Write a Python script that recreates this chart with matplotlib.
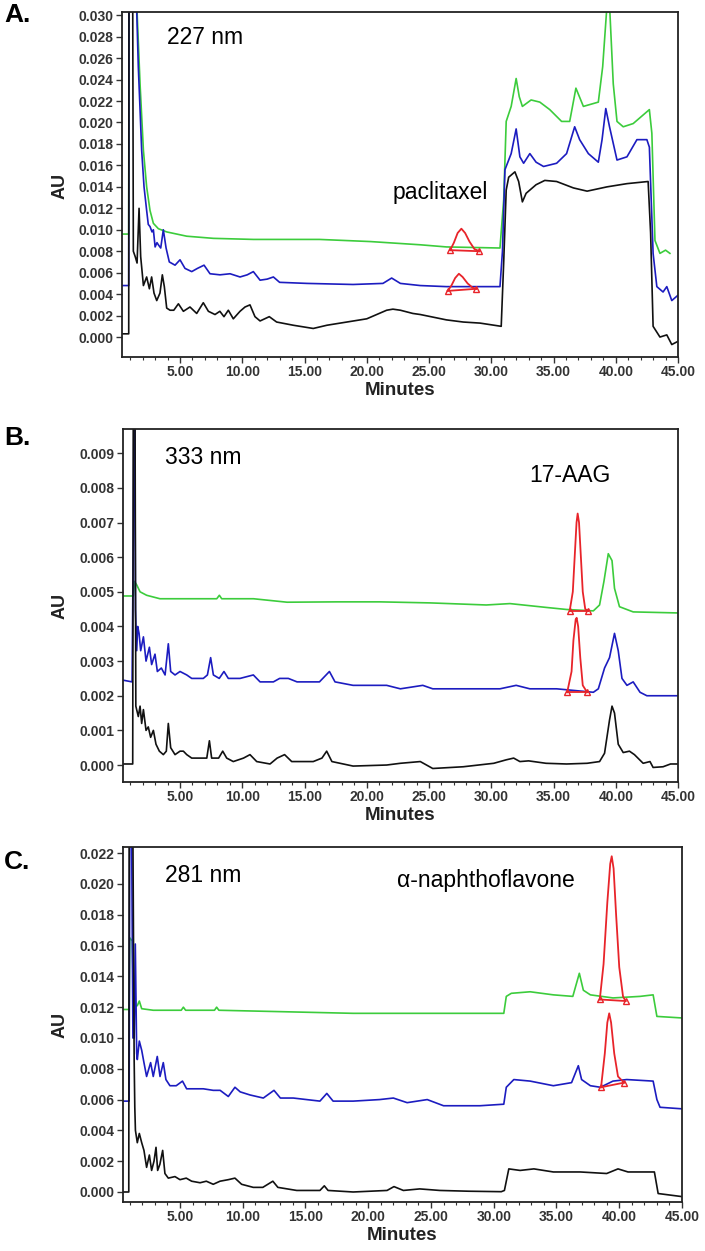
import numpy as np
import matplotlib.pyplot as plt
from matplotlib.ticker import MultipleLocator, FormatStrFormatter

plt.rcParams['font.family'] = ['Liberation Sans', 'DejaVu Sans']

# ---- traces: (minutes, AU) ----
# Panel A, 227 nm
a_black = [(0.34, 0.0003), (0.88, 0.0003), (0.90, 0.0320), (1.20, 0.0320), (1.25, 0.0080), (1.40, 0.0075),
           (1.55, 0.0069), (1.71, 0.0120), (1.84, 0.0075), (2.06, 0.0048), (2.32, 0.0056), (2.54, 0.0045),
           (2.72, 0.0056), (2.91, 0.0041), (3.13, 0.0034), (3.39, 0.0041), (3.58, 0.0058), (3.74, 0.0047),
           (3.93, 0.0027), (4.20, 0.0025), (4.50, 0.0025), (4.87, 0.0031), (5.27, 0.0024), (5.80, 0.0028),
           (6.34, 0.0022), (6.87, 0.0032), (7.28, 0.0024), (7.81, 0.0021), (8.20, 0.0024), (8.53, 0.0019),
           (8.88, 0.0025), (9.28, 0.0017), (9.82, 0.0024), (10.22, 0.0028), (10.62, 0.0030), (11.02, 0.0019),
           (11.43, 0.0015), (12.17, 0.0019), (12.76, 0.0014), (14.10, 0.0011), (15.70, 0.0008), (16.80, 0.0011),
           (18.40, 0.0014), (20.00, 0.0017), (21.60, 0.0025), (22.10, 0.0026), (22.70, 0.0025), (23.70, 0.0022),
           (24.30, 0.0021), (26.40, 0.0016), (27.75, 0.0014), (29.10, 0.0013), (30.80, 0.0010), (31.00, 0.0070),
           (31.20, 0.0137), (31.40, 0.0149), (31.90, 0.0154), (32.20, 0.0145), (32.50, 0.0126), (32.80, 0.0134),
           (33.60, 0.0142), (34.30, 0.0146), (35.25, 0.0145), (36.60, 0.0139), (37.70, 0.0136), (39.30, 0.0140),
           (40.90, 0.0143), (42.60, 0.0145), (42.80, 0.0097), (43.00, 0.0010), (43.55, 0.0000), (44.10, 0.0002),
           (44.50, -0.0007), (45.00, -0.0004)]
a_blue = [(0.34, 0.0048), (0.88, 0.0048), (0.90, 0.0320), (1.48, 0.0320), (1.52, 0.0305), (1.65, 0.0252),
          (1.79, 0.0212), (1.92, 0.0174), (2.11, 0.0140), (2.32, 0.0118), (2.45, 0.0105), (2.59, 0.0103),
          (2.75, 0.0098), (2.86, 0.0100), (3.00, 0.0084), (3.15, 0.0088), (3.26, 0.0086), (3.45, 0.0083),
          (3.66, 0.0100), (3.88, 0.0083), (4.14, 0.0070), (4.60, 0.0067), (5.00, 0.0072), (5.40, 0.0064),
          (5.94, 0.0061), (6.40, 0.0064), (6.93, 0.0067), (7.41, 0.0059), (8.21, 0.0058), (9.02, 0.0059),
          (9.82, 0.0056), (10.40, 0.0058), (10.89, 0.0061), (11.43, 0.0053), (12.00, 0.0054), (12.50, 0.0056),
          (13.00, 0.0051), (15.20, 0.0050), (18.90, 0.0049), (21.30, 0.0050), (22.00, 0.0055), (22.70, 0.0050),
          (24.30, 0.0048), (26.40, 0.0047), (30.70, 0.0047), (30.90, 0.0080), (31.10, 0.0156), (31.60, 0.0171),
          (32.00, 0.0194), (32.30, 0.0168), (32.60, 0.0162), (33.10, 0.0171), (33.60, 0.0163), (34.20, 0.0159),
          (35.25, 0.0162), (36.05, 0.0171), (36.70, 0.0196), (37.10, 0.0184), (37.80, 0.0171), (38.60, 0.0163),
          (38.90, 0.0184), (39.20, 0.0213), (39.50, 0.0196), (40.10, 0.0165), (40.90, 0.0168), (41.70, 0.0184),
          (42.50, 0.0184), (42.70, 0.0177), (43.00, 0.0078), (43.30, 0.0047), (43.80, 0.0042), (44.10, 0.0047),
          (44.50, 0.0034), (45.00, 0.0039)]
a_green = [(0.34, 0.0096), (0.88, 0.0096), (0.90, 0.0320), (1.50, 0.0320), (1.57, 0.0298), (1.79, 0.0236),
           (2.06, 0.0174), (2.32, 0.0140), (2.59, 0.0118), (2.86, 0.0106), (3.26, 0.0101), (3.93, 0.0098),
           (5.54, 0.0094), (7.68, 0.0092), (10.90, 0.0091), (16.20, 0.0091), (20.30, 0.0089), (24.30, 0.0086),
           (26.40, 0.0084), (30.70, 0.0083), (31.00, 0.0128), (31.20, 0.0201), (31.60, 0.0215), (32.00, 0.0241),
           (32.25, 0.0224), (32.50, 0.0215), (33.20, 0.0221), (33.90, 0.0219), (34.70, 0.0212), (35.65, 0.0201),
           (36.30, 0.0201), (36.80, 0.0232), (37.40, 0.0215), (38.60, 0.0219), (38.95, 0.0252), (39.30, 0.0310),
           (39.50, 0.0310), (39.80, 0.0236), (40.10, 0.0201), (40.60, 0.0196), (41.40, 0.0199), (42.20, 0.0207),
           (42.70, 0.0212), (42.90, 0.0190), (43.15, 0.0090), (43.55, 0.0078), (44.00, 0.0081), (44.35, 0.0078)]
a_peak_green = [(26.70, 0.0081), (27.00, 0.0088), (27.30, 0.0097), (27.60, 0.0101), (27.90, 0.0097),
                (28.25, 0.0089), (28.65, 0.0082), (29.05, 0.0080)]
a_peak_blue = [(26.50, 0.0043), (26.80, 0.0048), (27.10, 0.0055), (27.40, 0.0059), (27.70, 0.0056),
               (28.10, 0.0050), (28.50, 0.0046), (28.80, 0.0045)]

# Panel B, 333 nm
b_black = [(0.42, 0.00003), (1.20, 0.00003), (1.25, 0.0110), (1.38, 0.0110), (1.45, 0.0017), (1.65, 0.0014),
           (1.79, 0.0017), (1.92, 0.0012), (2.06, 0.0016), (2.27, 0.0010), (2.45, 0.0011), (2.64, 0.0008),
           (2.86, 0.0010), (3.07, 0.0006), (3.34, 0.0004), (3.66, 0.0003), (3.90, 0.0004), (4.06, 0.0012),
           (4.25, 0.0005), (4.60, 0.0003), (5.00, 0.0004), (5.27, 0.0004), (5.54, 0.0003), (5.94, 0.0002),
           (6.60, 0.0002), (7.15, 0.0002), (7.36, 0.0007), (7.54, 0.0002), (8.10, 0.0002), (8.43, 0.0004),
           (8.75, 0.0002), (9.28, 0.0001), (10.10, 0.0002), (10.62, 0.0003), (11.16, 0.0001), (12.23, 0.00003),
           (12.80, 0.0002), (13.40, 0.0003), (13.97, 0.0001), (15.70, 0.0001), (16.40, 0.0002), (16.78, 0.0004),
           (17.20, 0.0001), (18.90, -0.00003), (21.60, 0.0000), (22.70, 0.00005), (24.30, 0.0001),
           (25.30, -0.0001), (27.75, -0.00005), (30.20, 0.00005), (31.20, 0.00015), (31.80, 0.0002),
           (32.30, 0.0001), (33.00, 0.00012), (34.40, 0.00005), (36.05, 0.00003), (37.70, 0.00005),
           (38.70, 0.0001), (39.10, 0.00034), (39.50, 0.0013), (39.70, 0.0017), (39.90, 0.0015), (40.20, 0.0006),
           (40.60, 0.00036), (41.10, 0.0004), (41.50, 0.0003), (42.20, 0.00005), (42.75, 0.0001),
           (43.00, -0.00007), (43.80, -0.00005), (44.40, 0.00003), (45.00, 0.00003)]
b_blue = [(0.42, 0.00245), (1.15, 0.0024), (1.25, 0.0067), (1.30, 0.0110), (1.36, 0.0110), (1.42, 0.0045),
          (1.52, 0.0033), (1.60, 0.0040), (1.71, 0.0038), (1.84, 0.0033), (2.06, 0.0037), (2.27, 0.0030),
          (2.54, 0.0034), (2.72, 0.0029), (2.99, 0.0032), (3.18, 0.0027), (3.50, 0.0028), (3.80, 0.0026),
          (4.06, 0.0035), (4.25, 0.0027), (4.60, 0.0026), (5.00, 0.0027), (5.54, 0.0026), (5.94, 0.0025),
          (6.87, 0.0025), (7.20, 0.0026), (7.46, 0.0031), (7.68, 0.0026), (8.15, 0.0025), (8.53, 0.0027),
          (8.88, 0.0025), (9.82, 0.0025), (10.89, 0.0026), (11.43, 0.0024), (12.50, 0.0024), (13.00, 0.0025),
          (13.70, 0.0025), (14.40, 0.0024), (16.20, 0.0024), (17.00, 0.0027), (17.45, 0.0024), (18.90, 0.0023),
          (21.60, 0.0023), (22.70, 0.0022), (24.50, 0.0023), (25.30, 0.0022), (27.75, 0.0022), (30.70, 0.0022),
          (32.00, 0.0023), (33.10, 0.0022), (35.25, 0.0022), (38.20, 0.0021), (38.60, 0.0022), (39.10, 0.0028),
          (39.50, 0.0031), (39.90, 0.0038), (40.20, 0.0033), (40.50, 0.0025), (40.90, 0.0023), (41.40, 0.0024),
          (41.95, 0.0021), (42.50, 0.0020), (43.30, 0.0020), (45.00, 0.0020)]
b_green = [(0.42, 0.00488), (1.25, 0.00488), (1.35, 0.0053), (1.52, 0.0052), (1.79, 0.0050), (2.32, 0.0049),
           (3.39, 0.0048), (5.54, 0.0048), (7.95, 0.0048), (8.16, 0.0049), (8.35, 0.0048), (10.90, 0.0048),
           (13.60, 0.0047), (17.60, 0.00471), (21.06, 0.00471), (25.10, 0.00468), (29.60, 0.00462),
           (31.50, 0.00466), (34.40, 0.00455), (36.05, 0.00449), (38.20, 0.00445), (38.70, 0.00462),
           (39.05, 0.0053), (39.40, 0.0061), (39.70, 0.0059), (39.90, 0.0051), (40.30, 0.00457), (41.40, 0.00442),
           (45.00, 0.00439)]
b_peak_green = [(36.30, 0.00445), (36.55, 0.0050), (36.70, 0.0060), (36.85, 0.0070), (36.94, 0.00726),
                (37.05, 0.0070), (37.20, 0.0060), (37.35, 0.0050), (37.55, 0.0045), (37.80, 0.00445)]
b_peak_blue = [(36.10, 0.0021), (36.45, 0.0027), (36.60, 0.0036), (36.78, 0.0042), (36.86, 0.00425),
               (36.98, 0.0040), (37.15, 0.0031), (37.35, 0.0023), (37.70, 0.0021)]

# Panel C, 281 nm
c_black = [(0.46, 0.0000), (0.92, 0.0000), (0.95, 0.0230), (1.25, 0.0230), (1.35, 0.0085), (1.40, 0.0055),
           (1.45, 0.0040), (1.60, 0.0032), (1.76, 0.0038), (1.95, 0.0032), (2.13, 0.0027), (2.34, 0.0016),
           (2.56, 0.0024), (2.74, 0.0014), (2.93, 0.0020), (3.09, 0.0029), (3.22, 0.0014), (3.40, 0.0018),
           (3.62, 0.0027), (3.80, 0.0012), (4.07, 0.0009), (4.60, 0.0010), (5.00, 0.0008), (5.50, 0.0009),
           (5.93, 0.0007), (6.60, 0.0006), (7.10, 0.0007), (7.65, 0.0005), (8.19, 0.0007), (8.85, 0.0008),
           (9.38, 0.0009), (9.91, 0.0005), (10.84, 0.0003), (11.60, 0.0003), (12.40, 0.0007), (12.80, 0.0003),
           (14.30, 0.0001), (16.15, 0.0001), (16.50, 0.0004), (16.80, 0.0001), (18.80, 0.0000), (21.50, 0.0001),
           (22.05, 0.00035), (22.80, 0.0001), (24.10, 0.0002), (25.70, 0.0001), (28.00, 0.00005),
           (30.60, 0.00002), (30.85, 0.0001), (31.20, 0.0015), (32.10, 0.0014), (33.20, 0.0015), (34.75, 0.0013),
           (36.90, 0.0013), (39.00, 0.0012), (39.90, 0.0015), (40.70, 0.0013), (42.20, 0.0013), (42.80, 0.0013),
           (43.10, -0.0001), (45.00, -0.0003)]
c_blue = [(0.46, 0.0059), (0.95, 0.0059), (1.00, 0.0230), (1.15, 0.0230), (1.25, 0.0100), (1.35, 0.0100),
          (1.44, 0.0161), (1.55, 0.0090), (1.60, 0.0086), (1.76, 0.0098), (1.95, 0.0092), (2.13, 0.0084),
          (2.34, 0.0075), (2.66, 0.0084), (2.87, 0.0075), (3.19, 0.0088), (3.41, 0.0075), (3.67, 0.0084),
          (3.88, 0.0073), (4.20, 0.0069), (4.70, 0.0069), (5.20, 0.0072), (5.53, 0.0067), (6.10, 0.0067),
          (6.86, 0.0067), (7.65, 0.0066), (8.20, 0.0066), (8.85, 0.0062), (9.38, 0.0068), (9.80, 0.0065),
          (10.58, 0.0063), (11.64, 0.0061), (12.49, 0.0066), (13.00, 0.0061), (14.03, 0.0061), (16.15, 0.0059),
          (16.70, 0.0064), (17.20, 0.0059), (18.80, 0.0059), (20.90, 0.0060), (22.00, 0.0061), (23.10, 0.0058),
          (24.70, 0.0060), (26.00, 0.0056), (28.90, 0.0056), (30.80, 0.0057), (31.00, 0.0068), (31.60, 0.0073),
          (32.90, 0.0072), (34.75, 0.0069), (36.20, 0.0071), (36.74, 0.0082), (37.00, 0.0073), (37.70, 0.0069),
          (38.50, 0.0068), (39.50, 0.0072), (40.60, 0.0073), (42.70, 0.0072), (43.00, 0.0060), (43.25, 0.0055),
          (45.00, 0.0054)]
c_green = [(0.46, 0.01185), (0.95, 0.01185), (1.00, 0.0165), (1.20, 0.0163), (1.30, 0.0120), (1.60, 0.0121),
           (1.76, 0.0124), (1.95, 0.0119), (2.87, 0.0118), (5.10, 0.0118), (5.27, 0.0120), (5.45, 0.0118),
           (7.75, 0.0118), (7.92, 0.0120), (8.10, 0.0118), (13.50, 0.0117), (18.80, 0.0116), (24.10, 0.0116),
           (26.25, 0.0116), (30.80, 0.0116), (31.00, 0.0127), (31.40, 0.0129), (32.90, 0.0130), (34.75, 0.0128),
           (36.30, 0.0127), (36.82, 0.0142), (37.14, 0.0131), (37.70, 0.0128), (39.50, 0.0126), (41.65, 0.0127),
           (42.70, 0.0128), (43.00, 0.0114), (45.00, 0.0113)]
c_peak_green = [(38.45, 0.0125), (38.75, 0.0148), (39.05, 0.0188), (39.28, 0.0213), (39.40, 0.0218),
                (39.55, 0.0210), (39.75, 0.0180), (40.00, 0.0146), (40.30, 0.0127), (40.50, 0.0124)]
c_peak_blue = [(38.55, 0.0068), (38.85, 0.0090), (39.05, 0.0110), (39.20, 0.0116), (39.35, 0.0110),
               (39.60, 0.0090), (39.90, 0.0075), (40.38, 0.0071)]

panel_letters = ["A.", "B.", "C."]
wavelengths = ["227 nm", "333 nm", "281 nm"]
compounds = ["paclitaxel", "17-AAG", "\u03b1-naphthoflavone"]
x_ticks = [5, 10, 15, 20, 25, 30, 35, 40, 45]

GREEN = '#3ccc3c'
BLUE = '#1c1cc0'
BLACK = '#111111'
RED = '#e8242a'
W, H = 705, 1251

fig = plt.figure(figsize=(W / 100, H / 100), dpi=100)


def add_axes_px(left, top, right, bottom):
    return fig.add_axes([left / W, 1 - bottom / H, (right - left) / W, (bottom - top) / H])


def ftext(x, y, s, **kw):
    fig.text(x / W, 1 - y / H, s, **kw)


def draw_peak(ax, pts):
    t, v = zip(*pts)
    ax.plot(t, v, color=RED, lw=1.3, zorder=5)
    ax.plot([t[0], t[-1]], [v[0], v[-1]], color=RED, lw=1.3, zorder=5,
            marker='^', ms=4.5, mfc='none', mec=RED, mew=1.0)


panels = [
    dict(box=(122, 12, 678, 357), xlim=(0.34, 45.0), ylim=(-0.00186, 0.0303), ystep=0.002,
         traces=[a_green, a_blue, a_black], peaks=[a_peak_green, a_peak_blue],
         letter_y=15, wl_xy=(167, 37), cmp_xy=(393, 192), au_y=186, min_y=390),
    dict(box=(123, 429, 678, 782), xlim=(0.42, 45.0), ylim=(-0.00049, 0.0097), ystep=0.001,
         traces=[b_green, b_blue, b_black], peaks=[b_peak_green, b_peak_blue],
         letter_y=438, wl_xy=(165, 458), cmp_xy=(529, 476), au_y=606, min_y=815),
    dict(box=(123, 847, 682, 1202), xlim=(0.46, 45.0), ylim=(-0.00065, 0.0224), ystep=0.002,
         traces=[c_green, c_blue, c_black], peaks=[c_peak_green, c_peak_blue],
         letter_y=862, wl_xy=(165, 875), cmp_xy=(397, 881), au_y=1025, min_y=1235),
]

for i, p in enumerate(panels):
    ax = add_axes_px(*p['box'])
    for pts, col in zip(p['traces'], [GREEN, BLUE, BLACK]):
        t, v = zip(*pts)
        ax.plot(t, v, color=col, lw=1.2)
    for pk in p['peaks']:
        draw_peak(ax, pk)

    ax.set_xlim(*p['xlim'])
    ax.set_ylim(*p['ylim'])
    ax.set_xticks(x_ticks)
    ax.xaxis.set_major_formatter(FormatStrFormatter('%.2f'))
    ax.xaxis.set_minor_locator(MultipleLocator(1))
    ax.yaxis.set_major_locator(MultipleLocator(p['ystep']))
    ax.yaxis.set_major_formatter(FormatStrFormatter('%.3f'))
    ax.set_yticks([v for v in ax.get_yticks() if v >= -1e-9 and v <= p['ylim'][1]])
    ax.tick_params(axis='both', which='major', length=4, width=1, color='#333333',
                   labelsize=10, labelcolor='#333333', pad=2)
    ax.tick_params(axis='x', which='minor', length=2.5, width=0.8, color='#333333')
    for lab in ax.get_xticklabels() + ax.get_yticklabels():
        lab.set_fontweight('bold')
    for sp in ax.spines.values():
        sp.set_linewidth(1.3)
        sp.set_color('#222222')

    left, top, right, bottom = p['box']
    ftext(4, p['letter_y'], panel_letters[i], fontsize=19, fontweight='bold', va='center', ha='left')
    ftext(p['wl_xy'][0], p['wl_xy'][1], wavelengths[i], fontsize=16.5, va='center', ha='left')
    ftext(p['cmp_xy'][0], p['cmp_xy'][1], compounds[i], fontsize=16.5, va='center', ha='left')
    ftext(60, p['au_y'], "AU", fontsize=13, fontweight='bold', rotation=90, va='center', ha='center',
          color='#222222')
    ftext((left + right) / 2, p['min_y'], "Minutes", fontsize=13.5, fontweight='bold', va='center',
          ha='center', color='#222222')

fig.savefig('out.png', dpi=100)
